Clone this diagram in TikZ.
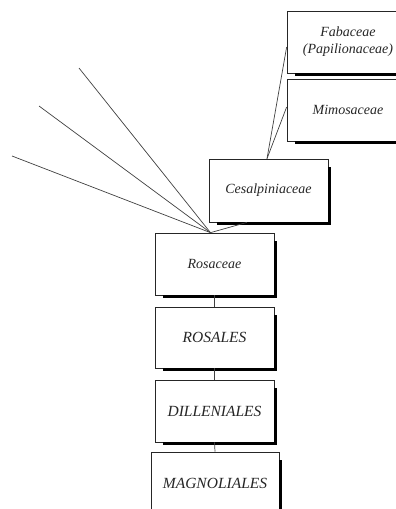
\documentclass[tikz,border=0pt]{standalone}
\usepackage{fontspec}
\setmainfont{Liberation Serif}
\usetikzlibrary{calc}
\tikzset{
  taxbox/.style={draw=black!85, line width=0.7pt, fill=white, inner sep=0pt,
    minimum width=119pt, minimum height=62pt, align=center, text=black!85,
    font=\itshape\fontsize{14}{17}\selectfont},
  capsbox/.style={taxbox, font=\itshape\fontsize{15.5}{18}\selectfont},
  link/.style={draw=black!75, line width=0.7pt},
  shade/.style={draw=black, line width=2.4pt, line cap=butt}
}
\newcommand{\boxshade}[1]{%
  \draw[shade] ($(#1.south west)+(8,1.3)$) -- ($(#1.south east)+(1.3,1.3)$) -- ($(#1.north east)+(1.3,8)$);}
\begin{document}
\begin{tikzpicture}[x=1pt,y=-1pt]
\useasboundingbox (0,0) rectangle (396,509);
% boxes
\node[taxbox, minimum width=122pt] (fab) at (348,42) {Fabaceae\\(Papilionaceae)};
\node[taxbox, minimum width=122pt] (mim) at (348,110) {Mimosaceae};
\node[taxbox, minimum height=63pt] (ces) at (268.5,190.5) {Cesalpiniaceae};
\node[taxbox] (ros) at (214.5,264) {Rosaceae};
\node[capsbox, minimum height=61pt] (rsl) at (214.5,337.5) {ROSALES};
\node[capsbox] (dil) at (214.5,411) {DILLENIALES};
\node[capsbox, minimum width=128pt] (mag) at (215,483) {MAGNOLIALES};
% shadows
\boxshade{fab}
\boxshade{mim}
\boxshade{ces}
\boxshade{ros}
\boxshade{rsl}
\boxshade{dil}
\boxshade{mag}
% free ends of the fan
\coordinate (f1) at (79,68);
\coordinate (f2) at (39,106);
\coordinate (f3) at (12,156);
\coordinate (hub) at ($(ros.north)+(-4,0)$);
\coordinate (chub) at ($(ces.north)+(-1.5,0)$);
% connectors
\draw[link] (hub) -- (f1);
\draw[link] (hub) -- (f2);
\draw[link] (hub) -- (f3);
\draw[link] (hub) -- ($(ces.south)+(-21.5,0)$);
\draw[link] (chub) -- ($(fab.west)+(0,5)$);
\draw[link] (chub) -- ($(mim.west)+(0,-3)$);
\draw[link] (ros.south) -- (rsl.north);
\draw[link] (rsl.south) -- (dil.north);
\draw[link] (dil.south) -- (mag.north);
\end{tikzpicture}
\end{document}
